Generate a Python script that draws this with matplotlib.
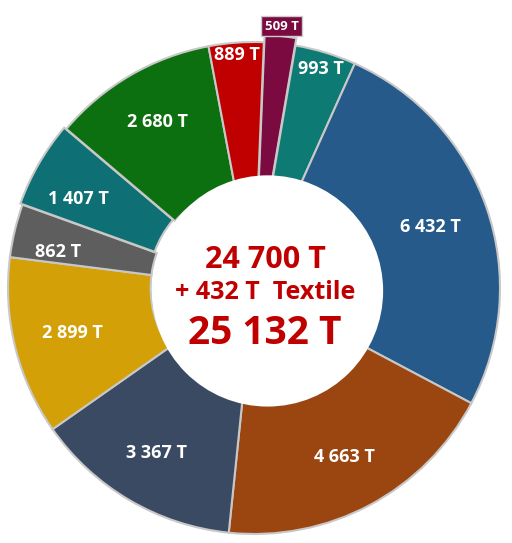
import matplotlib
matplotlib.use("Agg")
import matplotlib.pyplot as plt
from matplotlib.patches import Circle
import numpy as np

labels = ["509 T", "993 T", "6 432 T", "4 663 T", "3 367 T", "2 899 T", "862 T", "1 407 T", "2 680 T", "889 T"]
values = [509, 993, 6432, 4663, 3367, 2899, 862, 1407, 2680, 889]
colors = ["#7a0a40", "#0e7a74", "#255a8a", "#9b4510", "#3a4a62", "#d4a008", "#5e5e5e", "#0e6f74", "#0d7010", "#c00000"]
explode = [0.03, 0.0, 0.0, 0.0, 0.0, 0.0, 0.0, 0.01, 0.0, 0.0]
label_r = [1.07, 0.93, 0.76, 0.78, 0.78, 0.76, 0.81, 0.80, 0.78, 0.95]
label_da = [0, 0, 0, 0, 0, 0, 3, 3, 0, 0]
center_lines = ["24 700 T", "+ 432 T  Textile", "25 132 T"]

plt.rcParams['font.family'] = ['Open Sans', 'DejaVu Sans']

fig = plt.figure(figsize=(5.12, 5.43), dpi=100)
ax = fig.add_axes([0, 0, 1, 1])

start = 87.7
wedges, _ = ax.pie(values, colors=colors, startangle=start, counterclock=False,
                   radius=1.0, explode=explode,
                   wedgeprops=dict(width=0.58, edgecolor="#c8c8c8", linewidth=1.5))
ax.set_aspect('auto')
ax.set_xlim(-1.0325, 1.0488)
ax.set_ylim(-1.0366, 1.1707)
ax.axis('off')

# white centre hole (slightly off-centre as in the reference)
ax.add_patch(Circle((0.055, -0.012), 0.47, facecolor='white', edgecolor='none', zorder=3))

total = sum(values)
ang = start
for i, (v, lab) in enumerate(zip(values, labels)):
    span = v / total * 360
    mid = np.deg2rad(ang - span / 2 + label_da[i])
    ang -= span
    r = label_r[i]
    x, y = r * np.cos(mid), r * np.sin(mid)
    if i == 0:
        ax.text(x, y, lab, ha='center', va='center', color='white', fontsize=9.5,
                fontweight='bold', zorder=5,
                bbox=dict(boxstyle='square,pad=0.25', fc=colors[0], ec='#cccccc', lw=1))
    else:
        ax.text(x, y, lab, ha='center', va='center', color='white', fontsize=13,
                fontweight='bold', zorder=5)

red = "#c00000"
ax.text(0.045, 0.112, center_lines[0], ha='center', va='center', color=red, fontsize=22, fontweight='bold', zorder=5)
ax.text(0.045, -0.018, center_lines[1], ha='center', va='center', color=red, fontsize=18, fontweight='bold', zorder=5)
ax.text(0.045, -0.185, center_lines[2], ha='center', va='center', color=red, fontsize=28, fontweight='bold', zorder=5)

fig.savefig("out.png", dpi=100)
